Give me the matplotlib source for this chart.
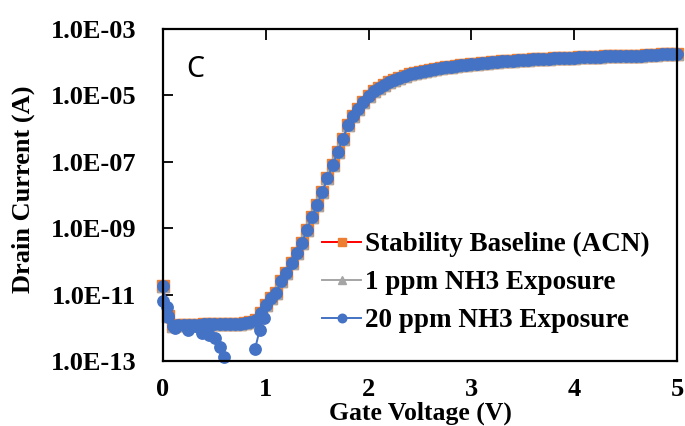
import matplotlib
matplotlib.use("Agg")
from matplotlib import pyplot as plt
from matplotlib.ticker import FixedLocator, FuncFormatter, NullLocator
import numpy as np

# gate voltage sweep (V)
vg = np.round(np.arange(0, 5.0001, 0.05), 2)

# log10 of drain current (A)
log_id = [
    -10.75, -11.65, -11.95, -11.93, -11.92, -11.92, -11.91, -11.91, -11.90, -11.90,
    -11.90, -11.90, -11.90, -11.90, -11.90, -11.89, -11.87, -11.82, -11.77, -11.55,
    -11.30, -11.10, -10.95, -10.60, -10.35, -10.05, -9.75, -9.45, -9.05, -8.65,
    -8.30, -7.90, -7.50, -7.10, -6.70, -6.30, -5.90, -5.62, -5.40, -5.20,
    -5.02, -4.88, -4.77, -4.68, -4.60, -4.53, -4.47, -4.41, -4.37, -4.33,
    -4.29, -4.26, -4.23, -4.20, -4.17, -4.15, -4.13, -4.11, -4.09, -4.07,
    -4.05, -4.04, -4.02, -4.01, -3.99, -3.98, -3.97, -3.96, -3.95, -3.94,
    -3.93, -3.92, -3.91, -3.90, -3.90, -3.89, -3.88, -3.88, -3.87, -3.87,
    -3.86, -3.85, -3.84, -3.84, -3.83, -3.83, -3.82, -3.82, -3.81, -3.81,
    -3.81, -3.80, -3.80, -3.80, -3.79, -3.78, -3.77, -3.76, -3.76, -3.75,
    -3.75,
]

# noisy low-current points in the off region
low_vg = [0.0, 0.035, 0.05, 0.12, 0.24, 0.38, 0.45, 0.51, 0.55, 0.59]
low_log = [-11.2, -11.36, -11.67, -12.0, -12.07, -12.17, -12.22, -12.3, -12.57, -12.89]
dip_vg = [0.895, 0.94, 0.98]
dip_log = [-12.64, -12.07, -11.7]

labels = ["Stability Baseline (ACN)", "1 ppm NH3 Exposure", "20 ppm NH3 Exposure"]
line_colors = ["#FF0000", "#A5A5A5", "#4472C4"]
marker_colors = ["#ED7D31", "#A5A5A5", "#4472C4"]
markers = ["s", "^", "o"]

ytick_vals = [1e-13, 1e-11, 1e-9, 1e-7, 1e-5, 1e-3]
xtick_vals = [0, 1, 2, 3, 4, 5]

plt.rcParams["font.family"] = ["Liberation Serif", "DejaVu Serif"]
plt.rcParams["font.weight"] = "bold"

fig = plt.figure(figsize=(6.85, 4.26), dpi=100)
ax = fig.add_axes([163 / 685, 1 - 361 / 426, 514 / 685, 332 / 426])

cur = 10 ** np.array(log_id)
for lab, lc, mc, mk in zip(labels, line_colors, marker_colors, markers):
    ax.plot(vg, cur, color=lc, lw=1.4, marker=mk, ms=8.0 if mk != "o" else 8.2,
            mfc=mc, mec=mc, label=lab, clip_on=False)

blue = line_colors[2]
for xs, ys in [(low_vg, low_log), (dip_vg, dip_log)]:
    ax.plot(xs, 10 ** np.array(ys), color=blue, lw=1.4, marker="o", ms=8.2,
            mfc=blue, mec=blue, clip_on=False)

ax.set_yscale("log")
ax.set_ylim(1e-13, 1e-3)
ax.set_xlim(0, 5)
ax.yaxis.set_major_locator(FixedLocator(ytick_vals))
ax.yaxis.set_minor_locator(NullLocator())
ax.yaxis.set_major_formatter(FuncFormatter(lambda v, p: f"{v:.1E}"))
ax.xaxis.set_major_locator(FixedLocator(xtick_vals))

ax.tick_params(axis="y", direction="in", length=7, width=1.3, pad=19,
               labelsize=19)
ax.tick_params(axis="x", bottom=False, top=True, direction="in", length=8,
               width=1.3, pad=12, labelsize=19, labelbottom=True)
for s in ax.spines.values():
    s.set_linewidth(1.6)

fig.text(420 / 685, 1 / 426, "Gate Voltage (V)", ha="center", va="bottom",
         fontsize=18.5, fontweight="bold")
fig.text(23 / 685, 1 - 189 / 426, "Drain Current (A)", rotation=90,
         ha="center", va="center", fontsize=19, fontweight="bold")

ax.text(186 / 685, 1 - 77 / 426, "C", transform=fig.transFigure,
        family="Noto Sans", fontweight="normal", fontsize=20.5,
        ha="left", va="baseline")

leg = ax.legend(loc="center left", bbox_to_anchor=(322 / 685, 1 - 282.5 / 426),
                bbox_transform=fig.transFigure, frameon=False,
                handlelength=1.45, handletextpad=0.15, labelspacing=0.48,
                borderpad=0, borderaxespad=0, markerscale=0.75,
                prop={"weight": "bold", "size": 19.5})

fig.savefig("out.png", dpi=100)
